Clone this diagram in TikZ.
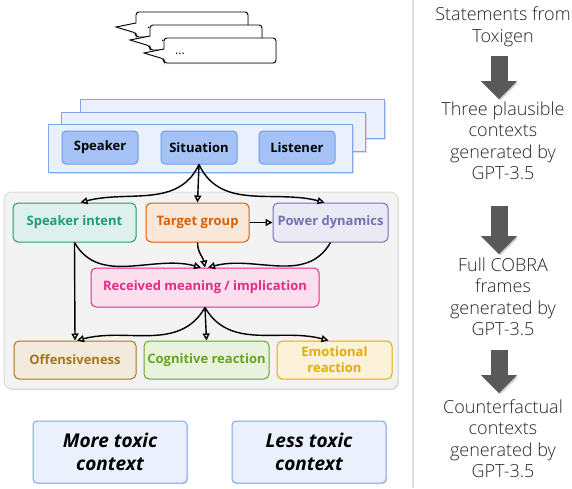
\documentclass[tikz,border=0pt]{standalone}
\usepackage{fontspec}
\setmainfont{Open Sans}
\newfontfamily\lightfont{Open Sans Light}
\usetikzlibrary{arrows.meta, positioning, shadows}

\definecolor{ctxfill}{HTML}{EAF1FD}
\definecolor{ctxedge}{HTML}{7FA7EA}
\definecolor{agentfill}{HTML}{A4C2F4}
\definecolor{agentedge}{HTML}{6D9EEB}
\definecolor{framefill}{HTML}{F3F3F3}
\definecolor{frameedge}{HTML}{D9D9D9}
\definecolor{intentc}{HTML}{1B9E77}
\definecolor{targetc}{HTML}{D95F02}
\definecolor{powerc}{HTML}{7570B3}
\definecolor{meaningc}{HTML}{E7298A}
\definecolor{offensec}{HTML}{A6761D}
\definecolor{cogc}{HTML}{66A61E}
\definecolor{emoc}{HTML}{E6AB02}
\definecolor{stepgray}{HTML}{595959}

\tikzset{
  softshadow/.style={drop shadow={opacity=0.25, shadow xshift=1pt, shadow yshift=-1.2pt}},
  bubble/.style={draw=black, fill=white, line width=0.9pt, softshadow},
  layerbox/.style={draw=ctxedge, fill=ctxfill, line width=1pt, softshadow,
                   anchor=north west, inner sep=0pt},
  agent/.style={draw=agentedge, fill=agentfill, line width=1pt, rounded corners=4pt,
                minimum width=76pt, minimum height=33pt,
                font=\bfseries\fontsize{13}{15}\selectfont},
  facet/.style={draw=#1, fill=#1!15, text=#1, line width=1pt, rounded corners=5pt,
                minimum height=39pt, inner sep=2pt, align=center,
                font=\bfseries\fontsize{13}{16}\selectfont},
  link/.style={-{Triangle[open, length=7pt, width=7pt]}, line width=1.4pt},
  contextbox/.style={draw=ctxedge, fill=ctxfill, line width=1pt, rounded corners=4pt,
                     softshadow, minimum width=154pt, minimum height=62pt, align=center,
                     font=\bfseries\itshape\fontsize{19}{23}\selectfont},
  stepnote/.style={font=\lightfont\fontsize{18}{21.5}\selectfont, align=center,
                   text=black!85, inner sep=0pt},
  bigarrow/.style={draw=stepgray, line width=17pt,
                   -{Triangle[length=18pt, width=35pt]},
                   preaction={draw=black, opacity=0.18,
                              transform canvas={shift={(1.2pt,-1.5pt)}}}}
}

\begin{document}
\begin{tikzpicture}[x=1pt, y=1pt]
  \useasboundingbox (0,0) rectangle (572,-488);

  % Statement bubbles
  \foreach \bx/\by [count=\k] in {136/12, 150/25, 164/38} {
    \draw[bubble] (\bx,-\by-11) [rounded corners=3pt] -- (\bx,-\by) -- (\bx+112,-\by)
      -- (\bx+112,-\by-25) -- (\bx,-\by-25) -- (\bx,-\by-21) [sharp corners]
      -- (\bx-20,-\by-15) -- cycle;
    \node[anchor=west, inner sep=0pt, font=\fontsize{12}{14}\selectfont]
      (dots\k) at (\bx+11,-\by-16) {...};
  }

  % Context layers
  \node[layerbox, minimum width=304pt, minimum height=39pt] (layer3) at (80,-99) {};
  \node[layerbox, minimum width=304pt, minimum height=39pt] (layer2) at (61,-112) {};
  \node[layerbox, minimum width=304pt, minimum height=48pt] (layer1) at (48,-124) {};

  \node[agent] (speaker)   at (100,-147.5) {Speaker};
  \node[agent] (situation) at (199,-147.5) {Situation};
  \node[agent] (listener)  at (297,-147.5) {Listener};

  % COBRA frame panel
  \node[draw=frameedge, fill=framefill, line width=1pt, rounded corners=8pt, softshadow,
        minimum width=394pt, minimum height=197pt] (panel) at (201,-290.5) {};

  \node[facet=intentc, minimum width=123pt]   (intent)    at (74.5,-222.5)  {Speaker intent};
  \node[facet=targetc, minimum width=103pt]   (target)    at (197.5,-222.5) {Target group};
  \node[facet=powerc, minimum width=115pt]    (power)     at (330.5,-222.5) {Power dynamics};
  \node[facet=meaningc, minimum width=228pt]  (meaning)   at (205,-287.5)   {Received meaning / implication};
  \node[facet=offensec, minimum width=122pt, minimum height=38pt]
    (offense) at (75,-360) {Offensiveness};
  \node[facet=cogc, minimum width=125pt, minimum height=38pt]
    (cognitive) at (206.5,-360) {Cognitive reaction};
  \node[facet=emoc, minimum width=115pt, minimum height=38pt]
    (emotional) at (334.5,-360) {Emotional\\reaction};

  % Links
  \draw[link] (situation.south) to[out=-115, in=15] ([xshift=6pt]intent.north);
  \draw[link] (situation.south) -- (target.north);
  \draw[link] (situation.south) to[out=-65, in=165] ([xshift=-6pt]power.north);
  \draw[link] (target.east) -- (power.west);
  \draw[link] (intent.south) to[out=-60, in=165] ([xshift=-4pt]meaning.north);
  \draw[link] (target.south) to[out=-90, in=100] (meaning.north);
  \draw[link] (power.south) to[out=-120, in=15] ([xshift=3pt]meaning.north);
  \draw[link] (intent.south) -- (offense.north);
  \draw[link] (meaning.south) to[out=-120, in=15] ([xshift=2pt]offense.north);
  \draw[link] (meaning.south) -- (cognitive.north);
  \draw[link] (meaning.south) to[out=-60, in=165] ([xshift=-6pt]emotional.north);

  % Contrasting contexts
  \node[contextbox] (moretoxic) at (110,-452) {More toxic\\context};
  \node[contextbox] (lesstoxic) at (309,-452) {Less toxic\\context};

  % Pipeline column
  \draw[black!13, line width=2pt] (413,0) -- (413,-488);

  \node[stepnote] (toxigen)   at (503,-27)    {Statements from\\Toxigen};
  \node[stepnote] (plausible) at (503,-140.5) {Three plausible\\contexts\\generated by\\GPT-3.5};
  \node[stepnote] (cobra)     at (503,-296.5) {Full COBRA\\frames\\generated by\\GPT-3.5};
  \node[stepnote] (counter)   at (503,-438.5) {Counterfactual\\contexts\\generated by\\GPT-3.5};

  \draw[bigarrow, shorten <=9pt, shorten >=2pt]
    ([xshift=-4pt]toxigen.south) -- ([xshift=-4pt]plausible.north);
  \draw[bigarrow, shorten <=26pt, shorten >=3pt]
    ([xshift=-4pt]plausible.south) -- ([xshift=-4pt]cobra.north);
  \draw[bigarrow, shorten <=14pt, shorten >=6pt]
    ([xshift=-4pt]cobra.south) -- ([xshift=-4pt]counter.north);
\end{tikzpicture}
\end{document}
